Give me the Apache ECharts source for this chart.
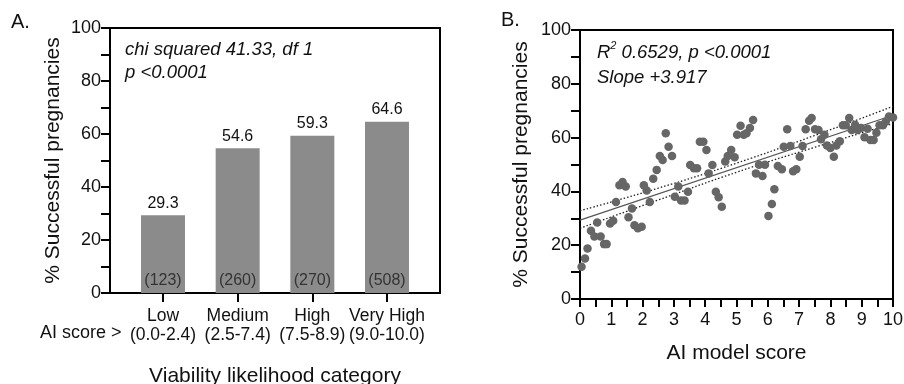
<!DOCTYPE html>
<html><head><meta charset="utf-8">
<script src="https://cdn.jsdelivr.net/npm/echarts@6/dist/echarts.min.js"></script>
<style>html,body{margin:0;padding:0;background:#fff}#c{width:904px;height:384px}</style>
</head><body><div id="c"></div>
<script>
// Panel A data
const categories = ['Low', 'Medium', 'High', 'Very High'];
const scoreRanges = ['(0.0-2.4)', '(2.5-7.4)', '(7.5-8.9)', '(9.0-10.0)'];
const successPct = [29.3, 54.6, 59.3, 64.6];
const nCounts = ['(123)', '(260)', '(270)', '(508)'];
// Panel B data
const scoreX = [0.05,0.16,0.24,0.35,0.46,0.55,0.66,0.77,0.85,0.96,1.06,1.15,1.26,1.36,1.46,1.55,1.66,1.74,1.85,1.97,2.04,2.13,2.23,2.34,2.45,2.55,2.64,2.74,2.83,2.94,3.03,3.14,3.23,3.34,3.45,3.52,3.64,3.74,3.83,3.94,4.04,4.11,4.23,4.34,4.43,4.53,4.64,4.72,4.83,4.94,5.02,5.13,5.23,5.32,5.43,5.53,5.62,5.72,5.83,5.91,6.02,6.13,6.21,6.32,6.45,6.51,6.62,6.72,6.81,6.91,7.02,7.11,7.21,7.32,7.40,7.51,7.62,7.70,7.81,7.89,8.00,8.11,8.19,8.30,8.40,8.49,8.60,8.68,8.79,8.87,8.98,9.09,9.19,9.28,9.38,9.47,9.57,9.68,9.77,9.87,10.0];
const pctY = [12.0,15.1,18.8,25.4,23.2,28.4,23.2,20.4,20.4,28.1,29.1,36.1,42.3,43.5,41.8,30.4,33.6,27.4,26.3,26.9,42.3,40.3,36.1,44.7,48.0,53.2,51.7,61.6,56.6,53.2,38.0,41.8,36.6,36.6,39.9,49.8,48.6,48.6,58.5,58.5,55.4,46.7,49.8,39.9,37.8,34.3,51.1,53.2,55.4,52.7,61.1,64.4,61.1,61.6,63.6,66.5,46.7,49.9,45.7,49.9,30.9,35.3,40.8,49.4,48.2,56.6,63.1,56.9,47.5,48.2,52.9,56.9,63.1,66.3,67.3,63.1,62.8,59.4,61.1,57.1,56.1,52.9,57.1,58.6,64.6,64.6,67.3,62.8,64.8,62.8,63.6,60.1,63.3,59.1,59.1,61.8,64.6,64.6,66.0,67.8,67.5];
const fitX = [0, 10];
const fitY = [29.3, 68.3];
const ciX = [0, 2.5, 5, 7.5, 10];
const ciUpper = [32.8, 41.2, 50.5, 60.8, 71.6];
const ciLower = [26.3, 36.8, 47.1, 56.4, 65.2];
const yTicks = [0, 20, 40, 60, 80, 100];
const xTicksB = [0,1,2,3,4,5,6,7,8,9,10];

const FONT = "'Liberation Sans', Arial, sans-serif";
const chart = echarts.init(document.getElementById('c'), null, {renderer: 'canvas'});
const zip = (a, b) => a.map((v, i) => [v, b[i]]);

const yAxisCommon = {
  type: 'value', min: 0, max: 100, interval: 10,
  axisLine: {show: true, onZero: false, lineStyle: {color: '#000', width: 2}},
  axisTick: {show: true, inside: false, length: 9, lineStyle: {color: '#000', width: 2}},
  axisLabel: {fontFamily: FONT, fontSize: 18, color: '#111', margin: 9,
    formatter: v => yTicks.includes(v) ? String(v) : ''},
  splitLine: {show: false},
  name: '% Successful pregnancies', nameLocation: 'middle', nameRotate: 90,
  nameTextStyle: {fontFamily: FONT, fontSize: 21, color: '#111'}
};

chart.setOption({
  animation: false,
  backgroundColor: '#fff',
  grid: [
    {left: 110, top: 28, width: 330, height: 265, show: true, borderColor: '#000', borderWidth: 2, backgroundColor: 'transparent', outerBoundsMode: 'none', containLabel: false},
    {left: 580, top: 30, width: 313, height: 269, show: true, borderColor: '#000', borderWidth: 2, backgroundColor: 'transparent', outerBoundsMode: 'none', containLabel: false}
  ],
  xAxis: [
    {gridIndex: 0, type: 'value', min: -0.71, max: 3.71,
      axisLine: {show: true, onZero: false, lineStyle: {color: '#000', width: 2}},
      axisTick: {show: true, length: 9, lineStyle: {color: '#000', width: 2}, customValues: [0,1,2,3]},
      axisLabel: {customValues: [0,1,2,3], showMinLabel: true, showMaxLabel: true, hideOverlap: false,
        fontFamily: FONT, fontSize: 17.5, color: '#111', lineHeight: 19, margin: 14,
        formatter: v => categories[Math.round(v)] + '\n' + scoreRanges[Math.round(v)]},
      splitLine: {show: false},
      name: 'Viability likelihood category', nameLocation: 'middle', nameGap: 73,
      nameTextStyle: {fontFamily: FONT, fontSize: 21, color: '#111'}},
    {gridIndex: 1, type: 'value', min: 0, max: 10, interval: 0.5,
      axisLine: {show: true, onZero: false, lineStyle: {color: '#000', width: 2}},
      axisTick: {show: true, length: 8, lineStyle: {color: '#000', width: 2}},
      axisLabel: {fontFamily: FONT, fontSize: 18, color: '#111', margin: 12,
        formatter: v => xTicksB.includes(v) ? String(v) : ''},
      splitLine: {show: false},
      name: 'AI model score', nameLocation: 'middle', nameGap: 44,
      nameTextStyle: {fontFamily: FONT, fontSize: 21, color: '#111'}}
  ],
  yAxis: [
    Object.assign({}, yAxisCommon, {gridIndex: 0, nameGap: 46}),
    Object.assign({}, yAxisCommon, {gridIndex: 1, nameGap: 48})
  ],
  series: [
    {type: 'bar', xAxisIndex: 0, yAxisIndex: 0, barWidth: 44,
      data: zip([0,1,2,3], successPct),
      itemStyle: {color: '#8b8b8b'},
      label: {show: true, position: 'insideBottom', distance: 4, fontFamily: FONT, fontSize: 16, color: '#333',
        formatter: p => nCounts[p.dataIndex]}},
    {type: 'bar', xAxisIndex: 0, yAxisIndex: 0, barWidth: 44, barGap: '-100%',
      data: zip([0,1,2,3], successPct),
      itemStyle: {color: 'rgba(0,0,0,0)'}, silent: true,
      label: {show: true, position: 'top', distance: 4, fontFamily: FONT, fontSize: 16, color: '#111',
        formatter: p => successPct[p.dataIndex].toFixed(1)}},
    {type: 'line', xAxisIndex: 1, yAxisIndex: 1, data: zip(ciX, ciUpper), smooth: true, symbol: 'none',
      lineStyle: {color: '#222', width: 1.3, type: [1.5, 2]}, z: 3},
    {type: 'line', xAxisIndex: 1, yAxisIndex: 1, data: zip(ciX, ciLower), smooth: true, symbol: 'none',
      lineStyle: {color: '#222', width: 1.3, type: [1.5, 2]}, z: 3},
    {type: 'line', xAxisIndex: 1, yAxisIndex: 1, data: zip(fitX, fitY), symbol: 'none',
      lineStyle: {color: '#555', width: 1.2}, z: 3},
    {type: 'scatter', xAxisIndex: 1, yAxisIndex: 1, data: zip(scoreX, pctY), symbolSize: 8.5,
      itemStyle: {color: '#666', opacity: 1}, z: 4}
  ],
  graphic: [
    {type: 'text', left: 11, top: 12, style: {text: 'A.', font: '20px ' + FONT, fill: '#111'}},
    {type: 'text', left: 501, top: 10, style: {text: 'B.', font: '20px ' + FONT, fill: '#111'}},
    {type: 'text', left: 40, top: 324, style: {text: 'AI score >', font: '18px ' + FONT, fill: '#111'}},
    {type: 'text', left: 125, top: 38, style: {text: 'chi squared 41.33, df 1\np <0.0001', font: 'italic 18.5px ' + FONT, fill: '#111', lineHeight: 23}},
    {type: 'text', left: 597, top: 40, style: {
      rich: {
        i: {fontFamily: FONT, fontSize: 18.5, fontStyle: 'italic', fill: '#111', lineHeight: 25},
        sup: {fontFamily: FONT, fontSize: 11, fontStyle: 'italic', fill: '#111', verticalAlign: 'top', padding: [0,0,9,0], lineHeight: 25}
      },
      text: '{i|R}{sup|2}{i| 0.6529, p <0.0001}\n{i|Slope +3.917}'}}
  ]
});
</script></body></html>
